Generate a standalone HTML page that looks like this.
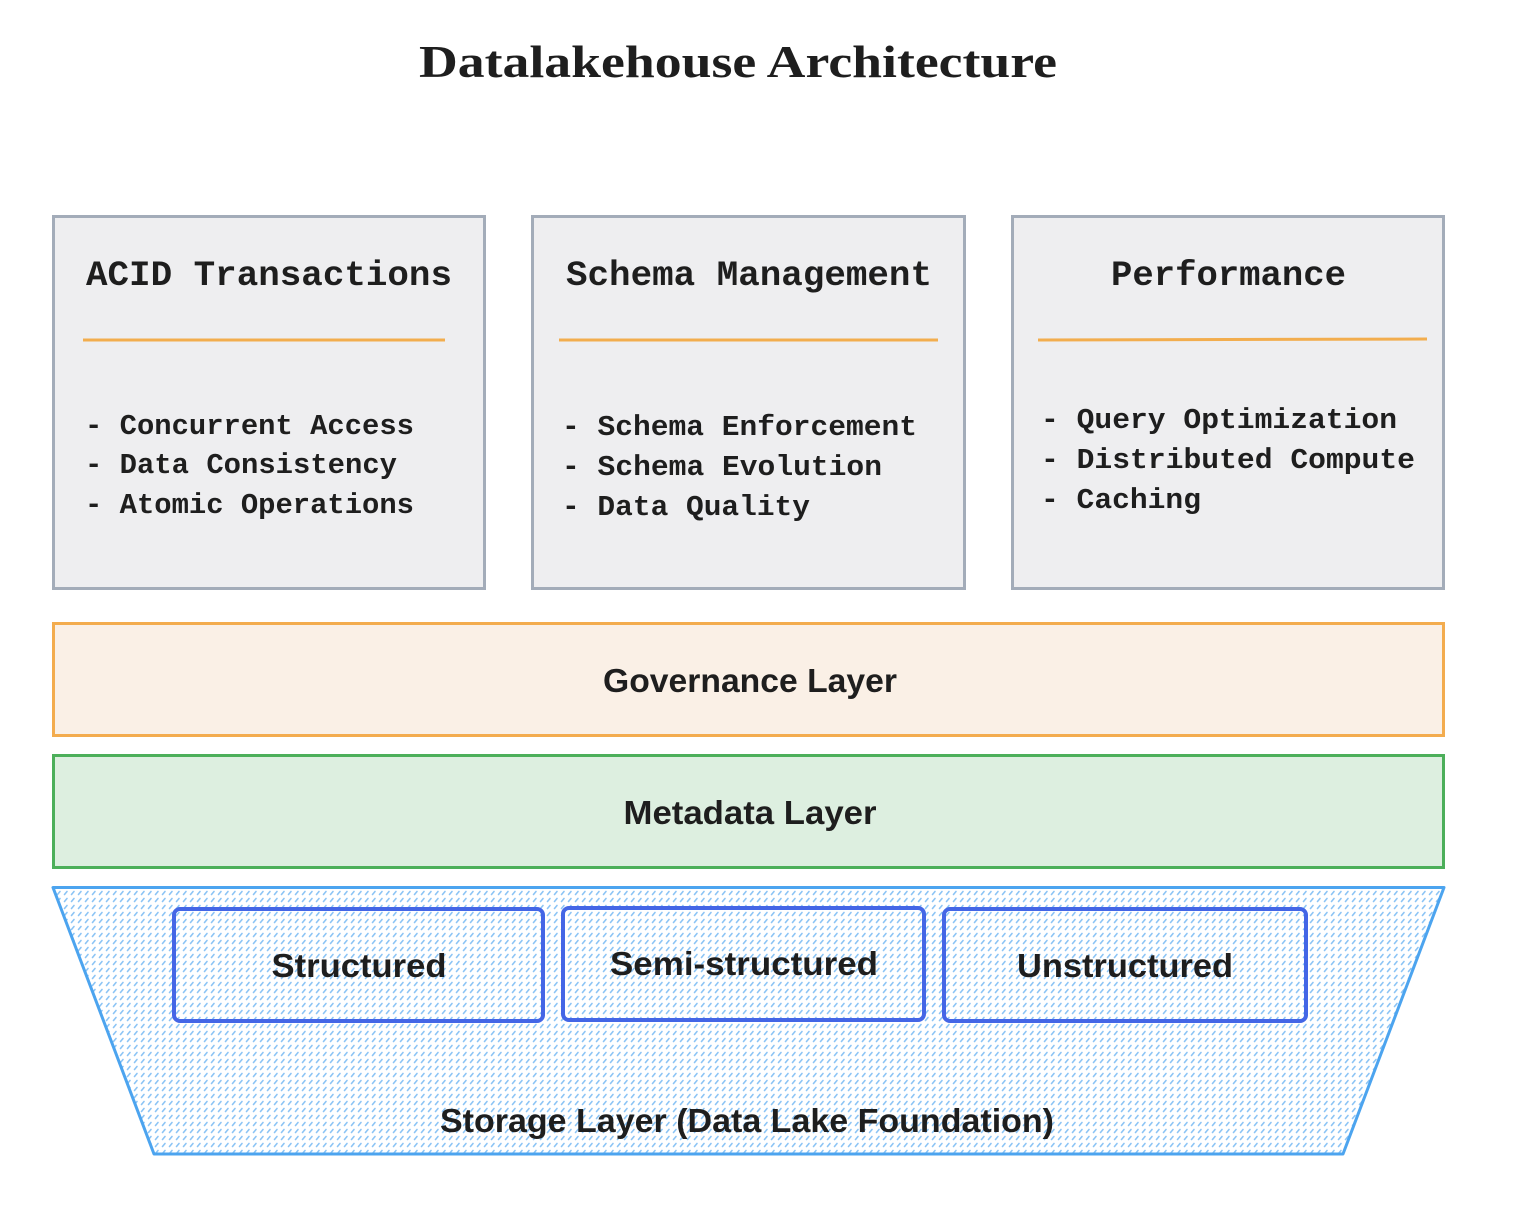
<!DOCTYPE html>
<html><head><meta charset="utf-8"><style>html,body{margin:0;padding:0;background:#fff}svg{display:block}</style></head>
<body>
<svg width="1516" height="1225" viewBox="0 0 1516 1225" xmlns="http://www.w3.org/2000/svg">
<defs>
<pattern id="h" width="7" height="7" patternUnits="userSpaceOnUse">
<rect width="7" height="7" fill="#ffffff"/>
<line x1="1.5" y1="5.5" x2="4" y2="2.5" stroke="#8cc4f5" stroke-width="1.6" stroke-linecap="round"/>
</pattern>
</defs>
<text x="738" y="77" text-anchor="middle" font-family="Liberation Serif, serif" font-weight="bold" font-size="46" fill="#1e1e1e" textLength="638" lengthAdjust="spacingAndGlyphs">Datalakehouse Architecture</text>

<g font-family="Liberation Mono, monospace" font-weight="bold" fill="#1e1e1e">
<rect x="53.5" y="216.5" width="431" height="372" fill="#eeeef0" stroke="#a3acb9" stroke-width="3"/>
<rect x="532.5" y="216.5" width="432" height="372" fill="#eeeef0" stroke="#a3acb9" stroke-width="3"/>
<rect x="1012.5" y="216.5" width="431" height="372" fill="#eeeef0" stroke="#a3acb9" stroke-width="3"/>
<line x1="83" y1="340" x2="445" y2="340" stroke="#f2ad4e" stroke-width="3"/>
<line x1="559" y1="340" x2="938" y2="340" stroke="#f2ad4e" stroke-width="3"/>
<line x1="1038" y1="340" x2="1427" y2="339" stroke="#f2ad4e" stroke-width="3"/>
<text x="86" y="285" font-size="35" textLength="366" lengthAdjust="spacingAndGlyphs">ACID Transactions</text>
<text x="566" y="285" font-size="35" textLength="366" lengthAdjust="spacingAndGlyphs">Schema Management</text>
<text x="1111" y="285" font-size="35" textLength="235" lengthAdjust="spacingAndGlyphs">Performance</text>
<g font-size="28.5">
<text x="85" y="434" textLength="329" lengthAdjust="spacingAndGlyphs">- Concurrent Access</text>
<text x="85" y="473" textLength="312" lengthAdjust="spacingAndGlyphs">- Data Consistency</text>
<text x="85" y="513" textLength="329" lengthAdjust="spacingAndGlyphs">- Atomic Operations</text>
<text x="562" y="435" textLength="355" lengthAdjust="spacingAndGlyphs">- Schema Enforcement</text>
<text x="562" y="475" textLength="320" lengthAdjust="spacingAndGlyphs">- Schema Evolution</text>
<text x="562" y="515" textLength="248" lengthAdjust="spacingAndGlyphs">- Data Quality</text>
<text x="1041" y="428" textLength="356" lengthAdjust="spacingAndGlyphs">- Query Optimization</text>
<text x="1041" y="468" textLength="374" lengthAdjust="spacingAndGlyphs">- Distributed Compute</text>
<text x="1041" y="508" textLength="160" lengthAdjust="spacingAndGlyphs">- Caching</text>
</g>
</g>

<g font-family="Liberation Sans, sans-serif" font-weight="bold" fill="#1e1e1e" font-size="33" text-anchor="middle">
<rect x="53.5" y="623.5" width="1390" height="112" fill="#faf0e6" stroke="#f3ac4e" stroke-width="3"/>
<text x="750" y="692" textLength="294" lengthAdjust="spacingAndGlyphs">Governance Layer</text>
<rect x="53.5" y="755.5" width="1390" height="112" fill="#ddefe0" stroke="#4caf5a" stroke-width="3"/>
<text x="750" y="824" textLength="253" lengthAdjust="spacingAndGlyphs">Metadata Layer</text>

<polygon points="53,887.5 1444,887.5 1343,1154 154,1154" fill="url(#h)" stroke="#4ca4ef" stroke-width="3" stroke-linejoin="round"/>
<rect x="174" y="909" width="369" height="112" rx="6" fill="none" stroke="#4466e6" stroke-width="4"/>
<rect x="563" y="908" width="361" height="112" rx="6" fill="none" stroke="#4466e6" stroke-width="4"/>
<rect x="944" y="909" width="362" height="112" rx="6" fill="none" stroke="#4466e6" stroke-width="4"/>
<text x="359" y="977" textLength="175" lengthAdjust="spacingAndGlyphs">Structured</text>
<text x="744" y="975" textLength="268" lengthAdjust="spacingAndGlyphs">Semi-structured</text>
<text x="1125" y="977" textLength="216" lengthAdjust="spacingAndGlyphs">Unstructured</text>
<text x="747" y="1132" textLength="614" lengthAdjust="spacingAndGlyphs">Storage Layer (Data Lake Foundation)</text>
</g>
</svg>
</body></html>
